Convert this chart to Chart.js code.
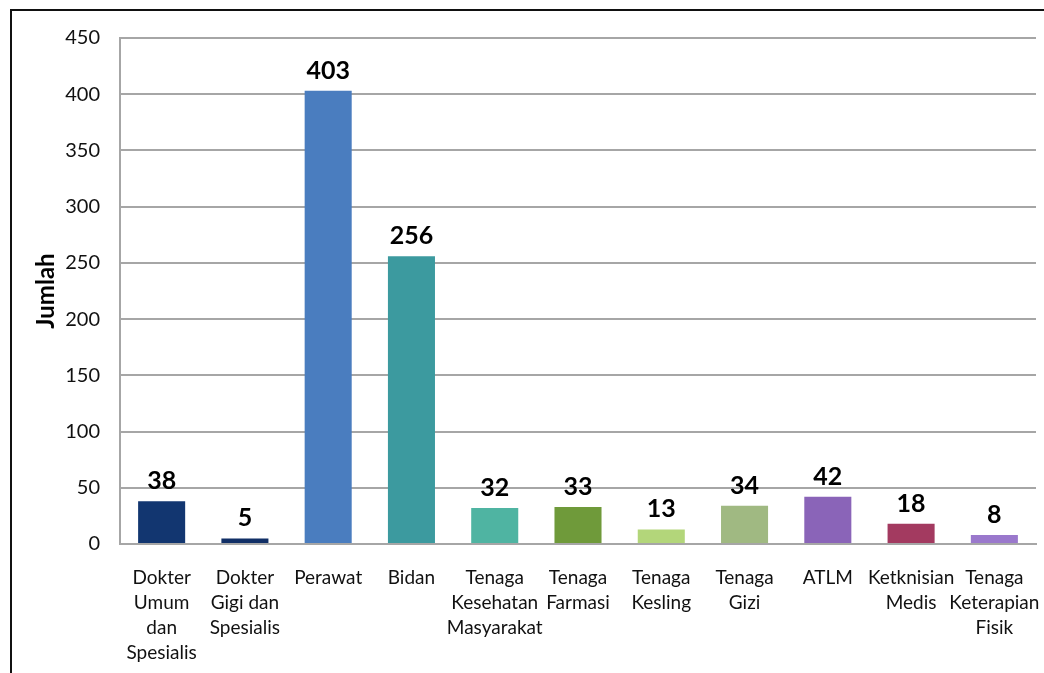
<!DOCTYPE html>
<html>
<head>
<meta charset="utf-8">
<script src="https://cdn.jsdelivr.net/npm/chart.js@4"></script>
<style>
  html, body { margin: 0; padding: 0; background: #fff; }
  #wrap { position: relative; width: 1044px; height: 673px; overflow: hidden; }
  #frame { position: absolute; left: 10px; top: 9px; right: -4px; bottom: -4px;
           border-left: 2px solid #111; border-top: 2px solid #111; }
  canvas { position: absolute; left: 0; top: 0; }
</style>
</head>
<body>
<div id="wrap">
  <div id="frame"></div>
  <canvas id="tenagaChart" width="1044" height="673"></canvas>
</div>
<script>
// jenis tenaga kesehatan dan jumlahnya
const categories = [
    ['Dokter', 'Umum', 'dan', 'Spesialis'],
    ['Dokter', 'Gigi dan', 'Spesialis'],
    'Perawat',
    'Bidan',
    ['Tenaga', 'Kesehatan', 'Masyarakat'],
    ['Tenaga', 'Farmasi'],
    ['Tenaga', 'Kesling'],
    ['Tenaga', 'Gizi'],
    'ATLM',
    ['Ketknisian', 'Medis'],
    ['Tenaga', 'Keterapian', 'Fisik']
];
const jumlah = [38, 5, 403, 256, 32, 33, 13, 34, 42, 18, 8];
const barColors = [
    '#123670', '#112f66', '#4a7dbf', '#3c9a9f', '#4fb4a2', '#6f9a3a',
    '#b3d67a', '#a0b982', '#8a64b8', '#a33a60', '#9a78cc'
];
const yTicks = [0, 50, 100, 150, 200, 250, 300, 350, 400, 450];

// angka di atas tiap batang
const valueLabels = {
    id: 'valueLabels',
    afterDatasetsDraw(chart) {
        const ctx = chart.ctx;
        const meta = chart.getDatasetMeta(0);
        ctx.save();
        ctx.font = 'bold 25px Lato';
        ctx.fillStyle = '#000';
        ctx.textAlign = 'center';
        ctx.textBaseline = 'alphabetic';
        meta.data.forEach((bar, i) => {
            ctx.fillText(jumlah[i], bar.x, bar.y - 12);
        });
        ctx.restore();
    }
};

const ctx = document.getElementById('tenagaChart');

new Chart(ctx, {
    type: 'bar',
    data: {
        labels: categories,
        datasets: [{
            label: 'Jumlah',
            data: jumlah,
            backgroundColor: barColors,
            borderWidth: 0,
            barPercentage: 0.565,
            categoryPercentage: 1
        }]
    },
    options: {
        responsive: false,
        animation: false,
        layout: { padding: { left: 14, top: 38, right: 8, bottom: 0 } },
        plugins: {
            legend: { display: false },
            tooltip: { enabled: false }
        },
        scales: {
            x: {
                grid: { display: false, drawTicks: false },
                border: { color: '#a6a6a6', width: 2 },
                ticks: {
                    color: '#111',
                    font: { family: 'Lato', size: 19, lineHeight: 1.32 },
                    padding: 21,
                    maxRotation: 0,
                    autoSkip: false
                },
                afterFit(scale) {
                    scale.height = 129;
                    // label terakhir boleh melewati batas area plot
                    scale.paddingLeft = 0;
                    scale.paddingRight = 0;
                }
            },
            y: {
                min: 0,
                max: 450,
                afterBuildTicks(scale) { scale.ticks = yTicks.map(v => ({ value: v })); },
                grid: { color: '#a6a6a6', lineWidth: 2, drawTicks: false },
                border: { color: '#a6a6a6', width: 2 },
                ticks: {
                    color: '#111',
                    font: { family: 'Lato', size: 20 },
                    padding: 20
                },
                title: {
                    display: true,
                    text: 'Jumlah',
                    color: '#000',
                    font: { family: 'Lato', size: 24, weight: 'bold' },
                    padding: { top: 18, bottom: 0 }
                },
                afterFit(scale) { scale.width = 106; }
            }
        }
    },
    plugins: [valueLabels]
});
</script>
</body>
</html>
